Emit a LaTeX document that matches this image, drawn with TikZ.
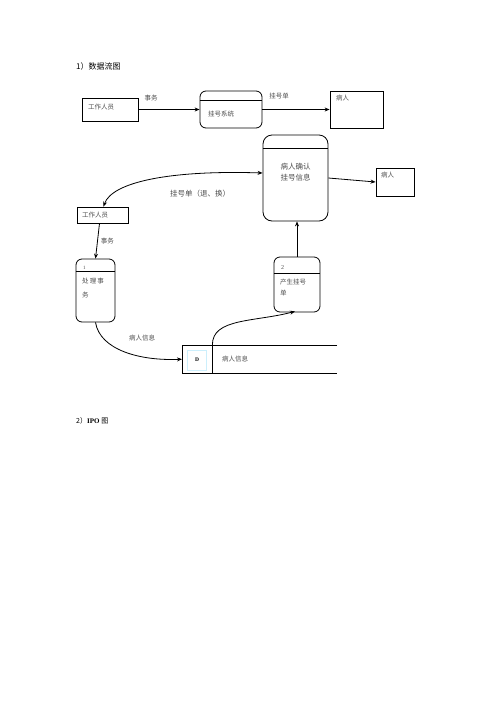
\documentclass[tikz,border=0pt]{standalone}
\usepackage{fontspec}
\setmainfont{Liberation Serif}
\newfontfamily\cjk{Noto Sans CJK SC}
\usetikzlibrary{arrows.meta,calc}
\definecolor{txt}{gray}{0.3}
\begin{document}
\begin{tikzpicture}[x=1pt,y=-1pt,
  box/.style={draw,line width=0.8pt,inner sep=0pt},
  proc/.style={draw,line width=0.8pt,rounded corners=6pt,inner sep=0pt},
  lab/.style={inner sep=0pt,text=txt,font=\cjk\fontsize{6.5}{8}\selectfont},
  flow/.style={line width=0.8pt,-{Stealth[length=5pt,width=4pt]}},
  divl/.style={line width=0.8pt}]
\useasboundingbox (0,0) rectangle (496,702);

\node[inner sep=0pt,anchor=west,font=\cjk\fontsize{8}{10}\selectfont] (t1) at (76,66) {1）数据流图};
\node[inner sep=0pt,anchor=west,font=\fontsize{7}{9}\selectfont] (t2) at (76,421) {{\cjk 2）}\textbf{IPO} {\cjk 图}};

% top row
\node[box,minimum width=56pt,minimum height=23pt] (w1) at (110.5,109.5) {};
\node[lab,anchor=west] (w1t) at (88,107) {工作人员};
\node[proc,minimum width=62pt,minimum height=37pt] (s1) at (231,109.5) {};
\draw[divl] ($(s1.north west)+(0,10)$) -- ($(s1.north east)+(0,10)$);
\node[lab,anchor=west] (s1t) at (208,114) {挂号系统};
\node[box,minimum width=53pt,minimum height=37pt] (p1) at (356.5,109.5) {};
\node[lab,anchor=north west] (p1t) at (336,95) {病人};
\draw[flow] (w1.east) -- (s1.west) node[lab,pos=0.2,above=8pt] (e1) {事务};
\draw[flow] (s1.east) -- (p1.west) node[lab,pos=0.25,above=10pt] (e2) {挂号单};

% confirm box
\node[proc,minimum width=65pt,minimum height=86pt,rounded corners=9pt] (c1) at (295.5,178) {};
\draw[divl] ($(c1.north west)+(0,14)$) -- ($(c1.north east)+(0,14)$);
\node[lab,align=center,font=\cjk\fontsize{7.5}{11}\selectfont] (c1t) at (295.5,172.5) {病人确认\\挂号信息};
\node[box,minimum width=38pt,minimum height=28pt] (p2) at (395,182) {};
\node[lab,anchor=north west] (p2t) at (381,172) {病人};
\draw[flow] (c1.east |- 0,178) -- (p2.west);

% staff 2
\node[box,minimum width=51pt,minimum height=16pt] (w2) at (102.5,215) {};
\node[lab,anchor=west] (w2t) at (82,215) {工作人员};
\draw[line width=0.8pt,{Stealth[length=5pt,width=4pt]}-{Stealth[length=5pt,width=4pt]}]
  (c1.west |- 0,173) .. controls (170,170) and (112,182) .. ($(w2.north)+(1,0)$);
\node[lab,font=\cjk\fontsize{7.5}{9}\selectfont] (e3) at (200,194) {挂号单（退、换）};

% process 1
\node[proc,minimum width=39pt,minimum height=63pt] (q1) at (95.5,290.5) {};
\draw[divl] ($(q1.north west)+(0,13)$) -- ($(q1.north east)+(0,13)$);
\node[lab,anchor=west,font=\fontsize{5}{6}\selectfont] (q1n) at (83,268) {1};
\node[lab,anchor=north west,align=left,text width=32pt,font=\cjk\fontsize{6.5}{14}\selectfont] (q1t) at (82,278) {处\,理\,事\\务};
\draw[flow] ($(w2.south)+(-3,0)$) -- (q1.north) node[lab,midway,right=3pt] (e4) {事务};

% data store
\coordinate (dtl) at (182,345);
\coordinate (dtr) at (337,345);
\coordinate (dbl) at (182,373);
\coordinate (dbr) at (337,373);
\node[inner sep=0pt,minimum width=30pt,minimum height=28pt,anchor=north west] (ds) at (182,345) {};
\draw[line width=0.8pt] (dtr) -- (dtl) -- (dbl) -- (dbr);
\draw[line width=0.8pt] (212,345) -- (212,373);
\node[draw=cyan!20,line width=0.4pt,minimum width=19pt,minimum height=20pt,inner sep=0pt,font=\fontsize{5.5}{6}\selectfont\bfseries] (dD) at (197,360) {D};
\node[lab,anchor=west] (dst) at (222,359) {病人信息};

% process 2
\node[proc,minimum width=46pt,minimum height=55pt] (q2) at (297,284.5) {};
\draw[divl] ($(q2.north west)+(0,17)$) -- ($(q2.north east)+(0,17)$);
\node[lab,anchor=west,font=\fontsize{6}{7}\selectfont] (q2n) at (281,268) {2};
\node[lab,anchor=north west,align=left,text width=42pt,font=\cjk\fontsize{6.5}{11}\selectfont] (q2t) at (280,279) {产生挂号\\单};
\draw[flow] (q2.north) -- (q2.north |- c1.south);

% curves
\draw[flow] (q1.south) .. controls (100,350) and (140,361) .. (ds.west);
\node[lab] (e5) at (142,338) {病人信息};
\draw[flow] (ds.north east) .. controls (212,318) and (255,322) .. ($(q2.south)+(-2,-1)$);
\end{tikzpicture}
\end{document}
